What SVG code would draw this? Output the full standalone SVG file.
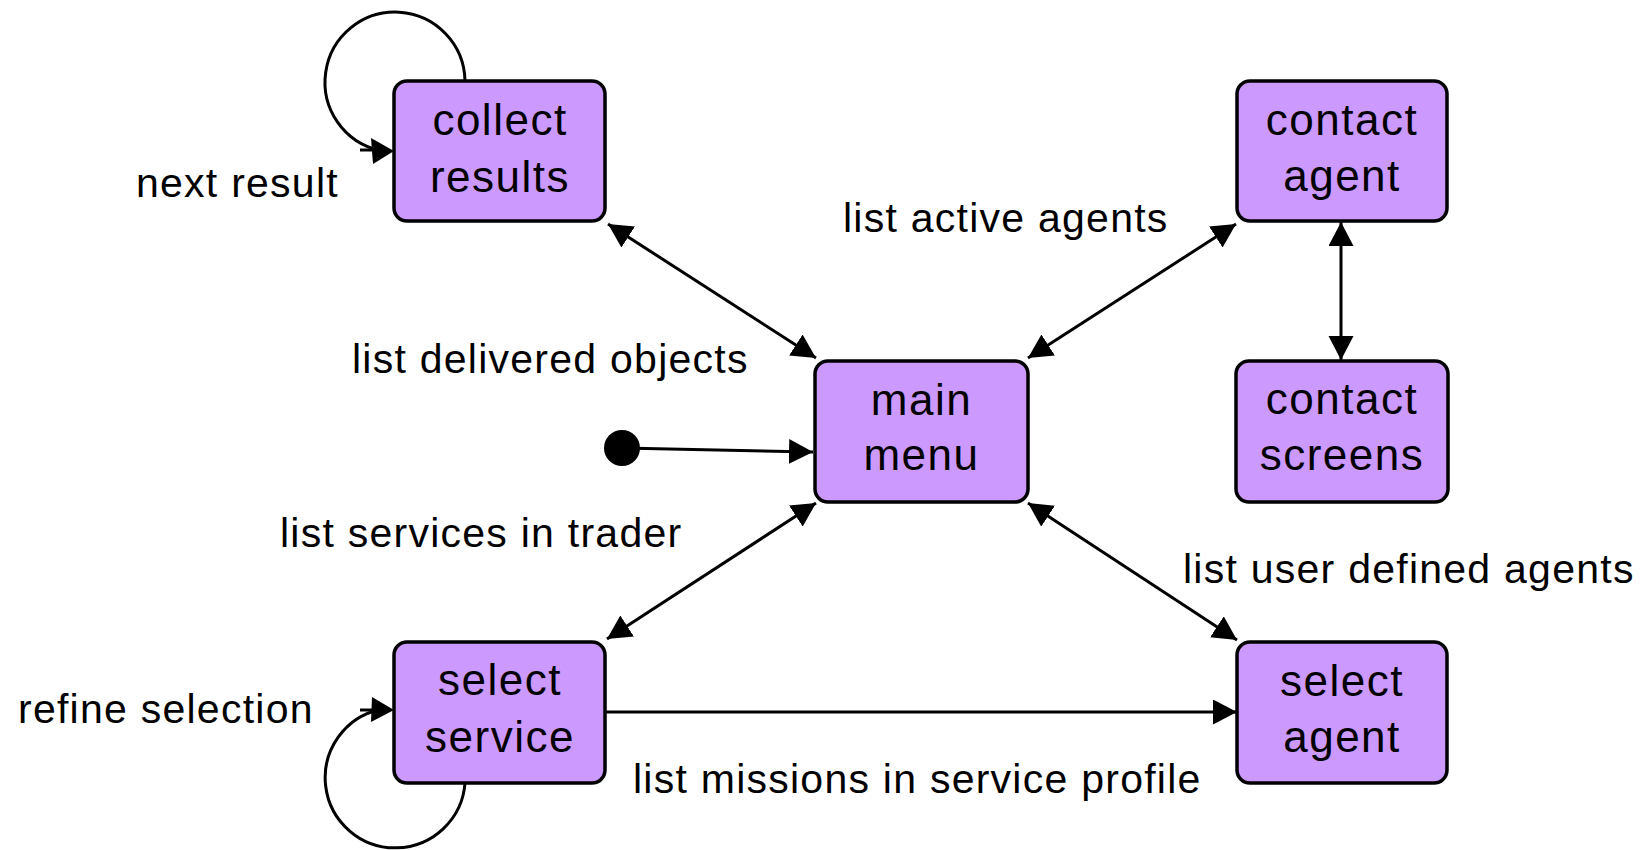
<svg xmlns="http://www.w3.org/2000/svg" width="1646" height="850" viewBox="0 0 1646 850">
<style>
.node rect{fill:#cc99ff;stroke:#000;stroke-width:3.5}
.node text{font-family:"Liberation Sans",Arial,sans-serif;font-size:44px;letter-spacing:1.5px;text-anchor:middle;fill:#000}
.lbl{font-family:"Liberation Sans",Arial,sans-serif;font-size:41px;letter-spacing:1.25px;fill:#000}
.c{fill:none;stroke:#000;stroke-width:3}
.ah{fill:#000;stroke:none}
</style>
<defs>
<marker id="arr" markerUnits="userSpaceOnUse" markerWidth="26" markerHeight="26" refX="24" refY="12.5" orient="auto-start-reverse" viewBox="0 0 26 26">
<path d="M0,0 L24,12.5 L0,25 z" class="ah"/>
</marker>
</defs>
<rect width="1646" height="850" fill="#fff"/>
<g id="connectors">
<path class="c" d="M465,81 A70,70 0 1,0 380,150.5"/>
<path class="c" d="M360,150 L372,150"/>
<path class="ah" d="M394,151 L371,138 L373,164 z"/>
<path class="c" d="M465,783 A70,70 0 1,1 380,709.5"/>
<path class="c" d="M360,710 L372,710"/>
<path class="ah" d="M394,710 L372,697 L371,722 z"/>
<circle cx="622" cy="448" r="18" fill="#000"/>
<line class="c" x1="622" y1="448" x2="813" y2="452" marker-end="url(#arr)"/>
<line class="c" x1="608" y1="224" x2="816" y2="358" marker-start="url(#arr)" marker-end="url(#arr)"/>
<line class="c" x1="1028" y1="358" x2="1236" y2="224" marker-start="url(#arr)" marker-end="url(#arr)"/>
<line class="c" x1="816" y1="503" x2="607" y2="639" marker-start="url(#arr)" marker-end="url(#arr)"/>
<line class="c" x1="1028" y1="503" x2="1237" y2="640" marker-start="url(#arr)" marker-end="url(#arr)"/>
<line class="c" x1="1341" y1="222" x2="1341" y2="360" marker-start="url(#arr)" marker-end="url(#arr)"/>
<line class="c" x1="605" y1="712" x2="1237" y2="712" marker-end="url(#arr)"/>
</g>
<g id="collect-results" class="node">
<rect x="394" y="81" width="211" height="140" rx="13"/>
<text x="500" y="135">collect</text>
<text x="500" y="192">results</text>
</g>
<g id="main-menu" class="node">
<rect x="815" y="361" width="213" height="141" rx="13"/>
<text x="921.5" y="415">main</text>
<text x="921.5" y="470">menu</text>
</g>
<g id="contact-agent" class="node">
<rect x="1237" y="81" width="210" height="140" rx="13"/>
<text x="1342" y="135">contact</text>
<text x="1342" y="191">agent</text>
</g>
<g id="contact-screens" class="node">
<rect x="1236" y="361" width="212" height="141" rx="13"/>
<text x="1342" y="414">contact</text>
<text x="1342" y="470">screens</text>
</g>
<g id="select-service" class="node">
<rect x="394" y="642" width="211" height="141" rx="13"/>
<text x="500" y="695">select</text>
<text x="500" y="752">service</text>
</g>
<g id="select-agent" class="node">
<rect x="1237" y="642" width="210" height="141" rx="13"/>
<text x="1342" y="696">select</text>
<text x="1342" y="752">agent</text>
</g>
<g id="labels">
<text class="lbl" x="136" y="197">next result</text>
<text class="lbl" x="352" y="373">list delivered objects</text>
<text class="lbl" x="280" y="547">list services in trader</text>
<text class="lbl" x="843" y="232">list active agents</text>
<text class="lbl" x="1183" y="583">list user defined agents</text>
<text class="lbl" x="18" y="723">refine selection</text>
<text class="lbl" x="633" y="793">list missions in service profile</text>
</g>
</svg>
